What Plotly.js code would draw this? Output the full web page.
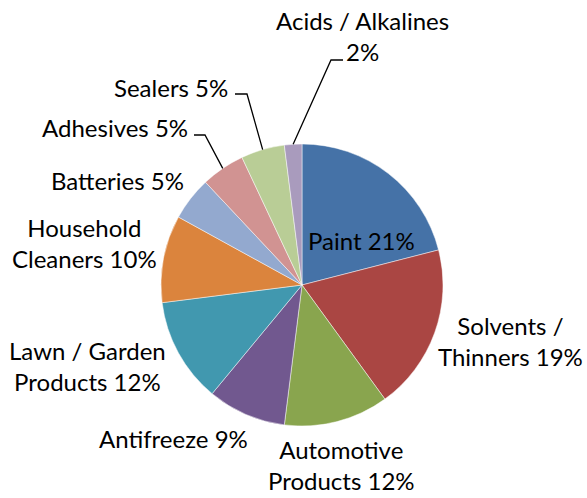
<!DOCTYPE html>
<html>
<head>
<meta charset="utf-8">
<script src="https://cdn.plot.ly/plotly-3.0.1.min.js"></script>
<style>
  html, body { margin: 0; padding: 0; background: #fff; }
  #chart { width: 587px; height: 498px; }
</style>
</head>
<body>
<div id="chart"></div>
<script>
// data
const categories = ["Paint", "Solvents / Thinners", "Automotive Products", "Antifreeze",
  "Lawn / Garden Products", "Household Cleaners", "Batteries", "Adhesives", "Sealers", "Acids / Alkalines"];
const shares = [21, 19, 12, 9, 12, 10, 5, 5, 5, 2];
const labelText = ["Paint 21%", "Solvents /<br>Thinners 19%", "Automotive<br>Products 12%", "Antifreeze 9%",
  "Lawn / Garden<br>Products 12%", "Household<br>Cleaners 10%", "Batteries 5%", "Adhesives 5%", "Sealers 5%",
  "Acids / Alkalines<br>2%"];
const colors = ["#4572A7", "#AA4643", "#89A54E", "#71588F", "#4198AF",
  "#DB843D", "#93A9CF", "#D19392", "#B9CD96", "#A99BBD"];

// layout (pixels)
const W = 587, H = 498;
const cx = 302, cy = 285, r = 141;
const labelPos = [[361, 240], [510, 341], [341, 465], [173, 438], [87, 366],
  [84, 243], [117, 180], [115, 127], [171, 88], [362, 36]];
// leader lines: [label end x, y, elbow x]
const leaders = {7: [194, 135, 205], 8: [235, 94, 247], 9: [343, 60, 331]};

const px = x => x / W;
const py = y => 1 - y / H;

const total = shares.reduce((a, b) => a + b, 0);
let cum = 0;
const annotations = [];
const shapes = [];
shares.forEach((v, i) => {
  const mid = (cum + v / 2) / total * 2 * Math.PI;
  cum += v;
  annotations.push({
    xref: "paper", yref: "paper", x: px(labelPos[i][0]), y: py(labelPos[i][1]),
    text: labelText[i], showarrow: false, xanchor: "center", yanchor: "middle", align: "center",
    font: {family: "Lato, sans-serif", size: 24, color: "#000"}
  });
  if (leaders[i]) {
    const ex = cx + r * Math.sin(mid), ey = cy - r * Math.cos(mid);
    const L = leaders[i];
    shapes.push({
      type: "path", xref: "paper", yref: "paper",
      path: `M ${px(L[0])} ${py(L[1])} L ${px(L[2])} ${py(L[1])} L ${px(ex)} ${py(ey)}`,
      line: {color: "#000", width: 1.3}
    });
  }
});

const data = [{
  type: "pie", labels: categories, values: shares, sort: false, direction: "clockwise",
  rotation: 0, textinfo: "none", hoverinfo: "label+percent",
  marker: {colors: colors, line: {color: "rgba(255,255,255,0.6)", width: 0.8}},
  domain: {x: [px(cx - r), px(cx + r)], y: [py(cy + r), py(cy - r)]}
}];

const layout = {
  width: W, height: H, margin: {l: 0, r: 0, t: 0, b: 0},
  showlegend: false, paper_bgcolor: "#fff",
  annotations: annotations, shapes: shapes
};

Plotly.newPlot("chart", data, layout, {displayModeBar: false, staticPlot: true});
</script>
</body>
</html>
